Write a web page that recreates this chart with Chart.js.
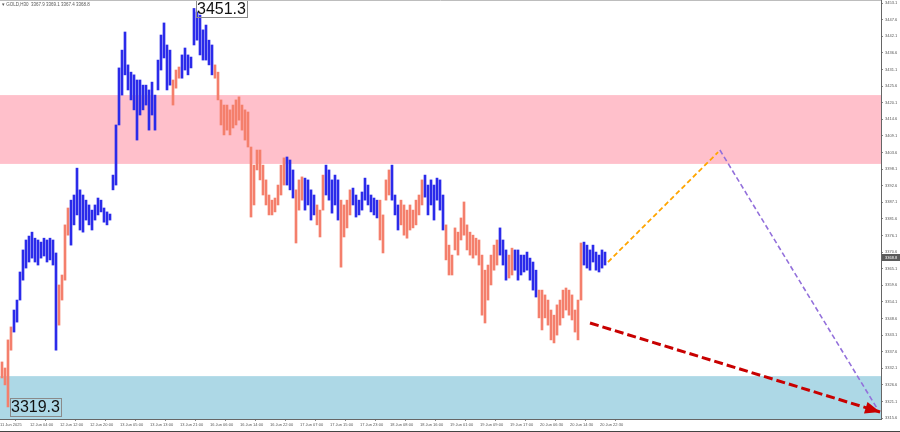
<!DOCTYPE html>
<html>
<head>
<meta charset="utf-8">
<script src="https://cdn.jsdelivr.net/npm/chart.js@4.4.1/dist/chart.umd.min.js"></script>
<style>
html,body{margin:0;padding:0;background:#fff;}
#wrap{width:900px;height:432px;position:relative;}
</style>
</head>
<body>
<div id="wrap"><canvas id="c" width="900" height="432"></canvas></div>
<script>
// GOLD H30, one entry per bar (high / low)
var highs = [
 3334.2,3332.2,3341.5,3345.8,3351.4,3354.7,3364.0,3371.3,3374.6,3375.9,
 3377.2,3375.2,3374.6,3373.9,3375.2,3374.6,3375.2,3374.6,3370.3,3359.7,
 3363.0,3379.6,3385.2,3387.8,3389.5,3398.4,3391.2,3389.5,3387.8,3386.2,
 3384.5,3386.2,3388.5,3387.8,3385.2,3383.9,3383.2,3396.1,3412.7,3431.6,
 3437.5,3443.5,3432.6,3430.2,3429.3,3427.6,3427.6,3425.9,3425.9,3424.3,
 3426.9,3422.6,3434.2,3442.5,3446.5,3439.2,3437.5,3427.6,3430.9,3431.9,
 3435.9,3438.2,3435.9,3435.2,3451.3,3450.1,3449.1,3444.2,3445.8,3440.8,
 3439.2,3432.6,3430.2,3421.0,3419.3,3419.3,3417.7,3419.3,3421.0,3422.0,
 3419.3,3417.7,3417.0,3405.4,3399.4,3404.4,3404.4,3399.4,3394.5,3389.5,
 3387.8,3388.5,3392.8,3399.4,3401.8,3402.1,3401.1,3397.8,3391.2,3394.5,
 3395.5,3395.1,3394.5,3391.2,3389.5,3386.2,3384.5,3396.1,3399.4,3397.8,
 3394.5,3396.1,3394.5,3387.8,3386.2,3387.8,3391.2,3391.8,3389.5,3387.8,
 3390.5,3395.1,3392.8,3389.5,3388.5,3387.8,3387.8,3382.9,3394.5,3397.8,
 3399.4,3389.5,3386.2,3387.8,3386.2,3384.5,3386.2,3384.5,3387.8,3389.5,
 3394.5,3396.1,3392.8,3394.5,3392.8,3395.1,3394.5,3389.5,3379.6,3372.9,
 3369.6,3378.6,3377.2,3381.9,3387.2,3379.6,3377.2,3376.2,3375.2,3374.6,
 3369.6,3364.6,3366.3,3369.6,3372.9,3374.6,3378.6,3374.6,3371.3,3369.6,
 3371.9,3371.3,3371.3,3369.6,3369.6,3370.6,3368.6,3367.3,3364.6,3358.0,
 3358.0,3356.4,3354.7,3351.4,3349.7,3353.1,3354.7,3358.0,3358.7,3358.0,
 3356.4,3351.4,3354.7,3373.6,3373.9,3372.9,3371.3,3372.9,3370.6,3369.6,
 3371.3,3370.6];
var lows = [
 3328.9,3326.6,3319.3,3338.1,3344.1,3347.4,3354.7,3361.3,3365.3,3367.3,
 3368.6,3367.3,3366.3,3368.6,3369.3,3367.3,3368.0,3366.3,3338.1,3346.4,
 3354.7,3361.3,3376.2,3372.9,3379.6,3382.9,3377.9,3377.2,3381.2,3379.6,
 3377.9,3381.2,3382.9,3383.9,3380.5,3379.6,3381.2,3391.2,3392.8,3412.7,
 3422.6,3429.3,3424.3,3421.0,3417.7,3407.7,3416.0,3417.7,3419.3,3411.0,
 3416.0,3411.0,3424.3,3430.9,3434.9,3424.3,3425.9,3419.3,3424.9,3428.2,
 3428.2,3430.9,3429.3,3431.6,3439.2,3440.8,3435.9,3434.2,3434.2,3432.6,
 3429.3,3428.2,3421.0,3412.7,3409.4,3411.0,3409.4,3411.7,3412.7,3414.3,
 3411.0,3407.7,3405.4,3382.2,3386.2,3397.8,3394.5,3389.5,3386.2,3382.9,
 3382.9,3383.9,3386.2,3389.5,3392.8,3392.8,3391.2,3388.5,3373.6,3384.5,
 3387.8,3384.5,3386.2,3381.2,3382.9,3379.6,3375.6,3384.5,3389.5,3387.8,
 3383.5,3386.2,3381.2,3365.6,3375.6,3378.6,3382.9,3386.2,3382.2,3382.9,
 3384.5,3387.8,3386.2,3383.9,3382.9,3381.9,3374.6,3370.3,3387.8,3389.5,
 3387.8,3382.9,3377.9,3379.6,3376.2,3375.2,3377.9,3378.6,3379.6,3382.9,
 3386.2,3388.8,3382.9,3386.2,3381.2,3387.8,3384.5,3377.9,3368.0,3363.0,
 3363.0,3371.3,3369.6,3374.6,3376.2,3371.3,3369.6,3368.6,3369.6,3366.3,
 3349.7,3347.1,3354.7,3359.7,3364.6,3366.3,3369.6,3366.3,3361.3,3362.0,
 3363.0,3364.6,3361.3,3363.0,3364.0,3364.6,3361.3,3358.0,3355.7,3348.8,
 3344.8,3348.8,3346.4,3341.5,3340.5,3343.1,3346.4,3348.8,3351.4,3349.7,
 3348.1,3344.1,3341.5,3354.7,3366.3,3365.3,3364.6,3367.3,3364.6,3364.0,
 3365.3,3366.3];
// wave colouring: runs of up (blue) / down (salmon) bars
var waveRuns = [['d',4],['u',15],['d',4],['u',34],['d',3],['u',11],['d',24],['u',3],['d',3],['u',4],
  ['d',3],['u',5],['d',4],['u',9],['d',4],['u',3],['d',8],['u',7],['d',18],['u',3],['d',2],['u',8],['d',15],['u',8]];

var timeLabels = ['11 Jun 2025','12 Jun 04:00','12 Jun 12:00','12 Jun 20:00','13 Jun 05:00','13 Jun 13:00',
  '13 Jun 21:00','16 Jun 06:00','16 Jun 14:00','16 Jun 22:00','17 Jun 07:00','17 Jun 15:00','17 Jun 23:00',
  '18 Jun 08:00','18 Jun 16:00','19 Jun 01:00','19 Jun 09:00','19 Jun 17:00','20 Jun 06:30','20 Jun 14:30','20 Jun 22:30'];
var priceTicks = [3453.1,3447.6,3442.1,3436.6,3431.1,3425.6,3420.1,3414.6,3409.1,3403.6,3398.1,3392.6,3387.1,
  3381.6,3376.1,3370.6,3365.1,3359.6,3354.1,3348.6,3343.1,3337.6,3332.1,3326.6,3321.1,3315.6];

var lastBar = [3367.9, 3369.1, 3367.4, 3368.8]; // O H L C
var resistZone = [3399.8, 3422.6];
var supportZone = [3315.3, 3329.5];
var orangeX = [202, 238.7], orangeY = [3367.3, 3403.7];
var purpleX = [239.3, 292], purpleY = [3404.4, 3318.3];
var redX = [196, 292.7], redY = [3347.1, 3317.6];
var markBars = [64, 2], markValues = [3451.3, 3319.3];

var xMin = -2/3, xMax = 293, yMin = 3315.3, yMax = 3454.1;

var waveDir = [];
waveRuns.forEach(function(r){ for (var k = 0; k < r[1]; k++) waveDir.push(r[0]); });
var barData = highs.map(function(h, i){ return {x: i, y: [lows[i], h]}; });
var barColours = waveDir.map(function(d){ return d == 'u' ? '#2b2bea' : '#f47f6c'; });

function pts(xs, ys){ return xs.map(function(x, i){ return {x: x, y: ys[i]}; }); }

var zonesPlugin = {
  id: 'zones',
  beforeDatasetsDraw: function(chart){
    var ctx = chart.ctx, a = chart.chartArea, y = chart.scales.y;
    ctx.save();
    [[resistZone, '#ffc0cb'], [supportZone, '#add8e6']].forEach(function(z){
      var t = y.getPixelForValue(z[0][1]), b = y.getPixelForValue(z[0][0]);
      ctx.fillStyle = z[1];
      ctx.fillRect(a.left, t, a.right - a.left, b - t);
    });
    ctx.restore();
  }
};

var marksPlugin = {
  id: 'marks',
  afterDraw: function(chart){
    var ctx = chart.ctx, xs = chart.scales.x, ys = chart.scales.y, a = chart.chartArea;
    ctx.save();
    // arrow head on the red line
    var m = chart.getDatasetMeta(3).data;
    var p0 = m[0], p1 = m[1];
    var ang = Math.atan2(p1.y - p0.y, p1.x - p0.x);
    ctx.fillStyle = '#c80000';
    ctx.beginPath();
    ctx.moveTo(p1.x, p1.y);
    ctx.lineTo(p1.x - 15*Math.cos(ang) + 6*Math.sin(ang), p1.y - 15*Math.sin(ang) - 6*Math.cos(ang));
    ctx.lineTo(p1.x - 15*Math.cos(ang) - 6*Math.sin(ang), p1.y - 15*Math.sin(ang) + 6*Math.cos(ang));
    ctx.closePath();
    ctx.fill();

    // high / low price labels
    ctx.font = '16px "Liberation Sans", Arial, sans-serif';
    ctx.textBaseline = 'middle';
    markBars.forEach(function(b, i){
      var px = xs.getPixelForValue(b) + 2, py = ys.getPixelForValue(markValues[i]);
      var txt = markValues[i].toFixed(1);
      var w = ctx.measureText(txt).width + 2;
      ctx.strokeStyle = '#8a8a8a';
      ctx.lineWidth = 1;
      ctx.strokeRect(Math.round(px) + 0.5, Math.round(py - 9) + 0.5, Math.round(w), 18);
      ctx.fillStyle = '#111';
      ctx.textAlign = 'left';
      ctx.fillText(txt, px + 1, py + 1);
    });

    // header
    ctx.font = '4.5px "Liberation Sans", Arial, sans-serif';
    ctx.fillStyle = '#555';
    ctx.textBaseline = 'middle';
    ctx.fillText('\u25BE GOLD,H30  ' + lastBar.map(function(v){ return v.toFixed(1); }).join(' '), 2, 5);

    // current price tag on the price axis
    var cy = ys.getPixelForValue(lastBar[3]);
    ctx.fillStyle = '#5b5b5b';
    ctx.fillRect(a.right + 1, Math.round(cy) - 3, 18, 7);
    ctx.fillStyle = '#fff';
    ctx.font = '4px "Liberation Sans", Arial, sans-serif';
    ctx.fillText(lastBar[3].toFixed(1), a.right + 4, cy + 0.5);

    // frame lines
    ctx.strokeStyle = '#bdbdbd';
    ctx.beginPath(); ctx.moveTo(0, 0.5); ctx.lineTo(a.right, 0.5); ctx.stroke();
    ctx.strokeStyle = '#444';
    ctx.beginPath(); ctx.moveTo(0, 431.5); ctx.lineTo(900, 431.5); ctx.stroke();
    ctx.restore();
  }
};

var chart = new Chart(document.getElementById('c'), {
  type: 'bar',
  data: {
    datasets: [
      {type: 'bar', data: barData, backgroundColor: barColours, borderWidth: 0, barThickness: 2, order: 4},
      {type: 'line', data: pts(orangeX, orangeY), borderColor: '#ffa500', borderWidth: 1.8, borderDash: [5, 3], pointRadius: 0, order: 1},
      {type: 'line', data: pts(purpleX, purpleY), borderColor: '#9370db', borderWidth: 1.6, borderDash: [5, 3], pointRadius: 0, order: 2},
      {type: 'line', data: pts(redX, redY), borderColor: '#c80000', borderWidth: 3, borderDash: [9, 4], pointRadius: 0, order: 0, clip: false}
    ]
  },
  options: {
    responsive: false,
    animation: false,
    devicePixelRatio: 1,
    layout: {padding: 0},
    plugins: {legend: {display: false}, tooltip: {enabled: false}},
    scales: {
      x: {
        type: 'linear', min: xMin, max: xMax, offset: false,
        grid: {display: true, drawOnChartArea: false, tickLength: 2, color: '#888'},
        border: {display: true, color: '#666'},
        ticks: {
          autoSkip: false, maxRotation: 0, align: 'start', padding: 1,
          font: {size: 4, family: '"Liberation Sans", Arial, sans-serif'}, color: '#555',
          callback: function(v, i){ return timeLabels[i]; }
        },
        afterBuildTicks: function(s){
          s.ticks = timeLabels.map(function(t, i){ return {value: xMin + 10*i}; });
        },
        afterFit: function(s){ s.height = 13; s.paddingLeft = 0; s.paddingRight = 0; }
      },
      y: {
        position: 'right', min: yMin, max: yMax,
        grid: {display: true, drawOnChartArea: false, tickLength: 2, color: '#888'},
        border: {display: true, color: '#666'},
        ticks: {
          autoSkip: false, padding: 2,
          font: {size: 4, family: '"Liberation Sans", Arial, sans-serif'}, color: '#555',
          callback: function(v){ return v.toFixed(1); }
        },
        afterBuildTicks: function(s){
          s.ticks = priceTicks.map(function(v){ return {value: v}; });
        },
        afterFit: function(s){ s.width = 19; s.paddingTop = 0; s.paddingBottom = 0; }
      }
    }
  },
  plugins: [zonesPlugin, marksPlugin]
});
</script>
</body>
</html>
